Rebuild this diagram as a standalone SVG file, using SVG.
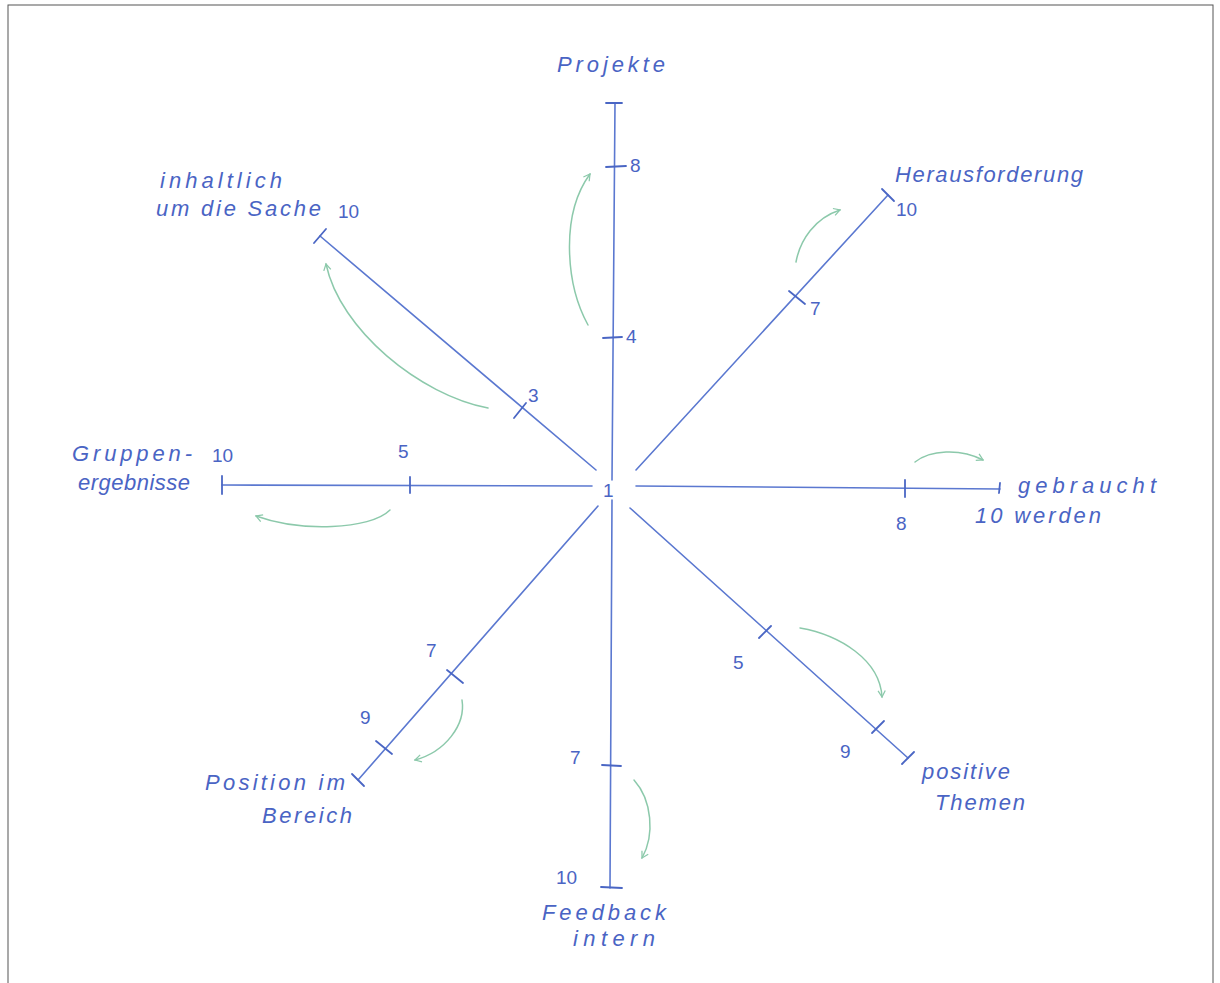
<svg xmlns="http://www.w3.org/2000/svg" width="1220" height="983" viewBox="0 0 1220 983">
<defs>
<style>
.ax{stroke:#5b78d0;stroke-width:1.6;fill:none;stroke-linecap:round}
.tk{stroke:#4a66c4;stroke-width:1.8;fill:none;stroke-linecap:round}
.gr{stroke:#8cc9ab;stroke-width:1.5;fill:none;stroke-linecap:round}
.t{font-family:"Liberation Sans",Arial,sans-serif;font-size:22px;fill:#4a64c4;font-style:italic}
.n{font-family:"Liberation Sans",Arial,sans-serif;font-size:19px;fill:#4a64c4}
</style>
<marker id="ah" viewBox="0 0 10 10" refX="8" refY="5" markerWidth="9" markerHeight="9" orient="auto" markerUnits="userSpaceOnUse">
<path d="M1,1 L8,5 L1,9" fill="none" stroke="#8cc9ab" stroke-width="1.4"/>
</marker>
</defs>
<rect x="0" y="0" width="1220" height="983" fill="#ffffff"/>
<rect x="8" y="5" width="1205" height="990" fill="none" stroke="#555" stroke-width="1"/>

<g id="connectors">
<path class="ax" d="M612,480 L615,103"/>
<path class="ax" d="M612,500 L610,888"/>
<path class="ax" d="M592,486 L222,485"/>
<path class="ax" d="M636,486 L1000,489"/>
<path class="ax" d="M636,470 L888,195"/>
<path class="ax" d="M596,470 L320,236"/>
<path class="ax" d="M598,506 L358,780"/>
<path class="ax" d="M630,508 L908,758"/>
<path class="tk" d="M606,103 L622,103"/>
<path class="tk" d="M601,887 L622,888"/>
<path class="tk" d="M222,476 L222,494"/>
<path class="tk" d="M1000,483 L999,493"/>
<path class="tk" d="M882,189 L894,201"/>
<path class="tk" d="M314,243 L326,229"/>
<path class="tk" d="M352,774 L364,786"/>
<path class="tk" d="M902,764 L914,752"/>
<path class="tk" d="M606,167 L626,166"/>
<path class="tk" d="M603,338 L622,337"/>
<path class="tk" d="M602,765 L621,766"/>
<path class="tk" d="M410,477 L410,493"/>
<path class="tk" d="M905,480 L905,497"/>
<path class="tk" d="M789,291 L805,304"/>
<path class="tk" d="M514,418 L526,403"/>
<path class="tk" d="M447,670 L463,683"/>
<path class="tk" d="M376,741 L392,754"/>
<path class="tk" d="M759,638 L771,626"/>
<path class="tk" d="M872,733 L884,721"/>
<path class="gr" marker-end="url(#ah)" d="M588,325 C566,285 560,215 590,174"/>
<path class="gr" marker-end="url(#ah)" d="M488,408 C420,395 340,330 326,264"/>
<path class="gr" marker-end="url(#ah)" d="M796,262 C800,240 815,218 840,210"/>
<path class="gr" marker-end="url(#ah)" d="M915,462 C930,450 960,448 983,460"/>
<path class="gr" marker-end="url(#ah)" d="M390,510 C370,530 300,532 256,516"/>
<path class="gr" marker-end="url(#ah)" d="M800,628 C840,635 880,660 882,697"/>
<path class="gr" marker-end="url(#ah)" d="M462,700 C466,725 445,752 415,760"/>
<path class="gr" marker-end="url(#ah)" d="M634,780 C652,800 655,835 642,858"/>
</g>

<g id="center"><text class="n" x="603" y="497">1</text></g>

<g id="node-projekte">
<text class="t" x="557" y="72" textLength="108" lengthAdjust="spacing">Projekte</text>
<text class="n" x="630" y="172">8</text>
<text class="n" x="626" y="343">4</text>
</g>
<g id="node-inhalte">
<text class="t" x="160" y="188" textLength="122" lengthAdjust="spacing">inhaltlich</text>
<text class="t" x="156" y="216" textLength="165" lengthAdjust="spacing">um die Sache</text>
<text class="n" x="338" y="218">10</text>
<text class="n" x="528" y="402">3</text>
</g>
<g id="node-herausforderung">
<text class="t" x="895" y="182" textLength="188" lengthAdjust="spacing">Herausforderung</text>
<text class="n" x="896" y="216">10</text>
<text class="n" x="810" y="315">7</text>
</g>
<g id="node-gruppenergebnisse">
<text class="t" x="72" y="461" textLength="120" lengthAdjust="spacing">Gruppen-</text>
<text class="n" x="212" y="462">10</text>
<text class="t" x="78" y="490" textLength="112" lengthAdjust="spacing">ergebnisse</text>
<text class="n" x="398" y="458">5</text>
</g>
<g id="node-gebraucht">
<text class="t" x="1018" y="493" textLength="138" lengthAdjust="spacing">gebraucht</text>
<text class="t" x="975" y="523" textLength="126" lengthAdjust="spacing">10 werden</text>
<text class="n" x="896" y="530">8</text>
</g>
<g id="node-position">
<text class="t" x="205" y="790" textLength="140" lengthAdjust="spacing">Position im</text>
<text class="t" x="262" y="823" textLength="90" lengthAdjust="spacing">Bereich</text>
<text class="n" x="426" y="657">7</text>
<text class="n" x="360" y="724">9</text>
</g>
<g id="node-positive">
<text class="t" x="922" y="779" textLength="88" lengthAdjust="spacing">positive</text>
<text class="t" x="935" y="810" textLength="90" lengthAdjust="spacing">Themen</text>
<text class="n" x="733" y="669">5</text>
<text class="n" x="840" y="758">9</text>
</g>
<g id="node-feedback">
<text class="t" x="542" y="920" textLength="124" lengthAdjust="spacing">Feedback</text>
<text class="t" x="573" y="946" textLength="82" lengthAdjust="spacing">intern</text>
<text class="n" x="556" y="884">10</text>
<text class="n" x="570" y="764">7</text>
</g>
</svg>
